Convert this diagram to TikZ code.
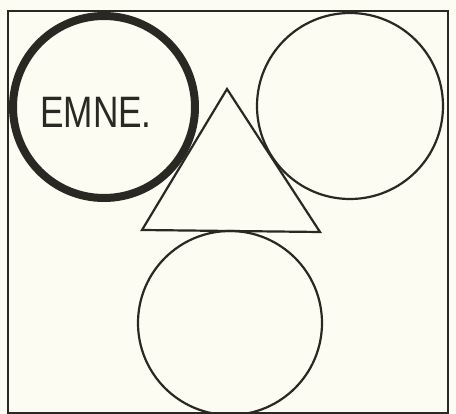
\documentclass[tikz,border=0pt]{standalone}
\usepackage{fontspec}
\setmainfont{Liberation Sans}
\usetikzlibrary{shapes.geometric}
\definecolor{paper}{HTML}{FDFCF2}
\definecolor{ink}{HTML}{2A2822}
\begin{document}
\begin{tikzpicture}[x=1pt,y=-1pt,
  thin line/.style={draw=ink,line width=2.2pt},
  ring/.style={circle,draw=ink,line width=2.2pt,inner sep=0pt},
  boldring/.style={circle,draw=ink,line width=8pt,inner sep=0pt}]
\fill[paper] (0,0) rectangle (456,414);
\useasboundingbox (0,0) rectangle (456,414);
\draw[thin line] (8,413) -- (8,11) -- (448,11) -- (448,413) -- cycle;
\node[boldring,minimum size=182pt] (emne) at (104,107) {};
\node[ring,minimum size=186pt] (right) at (350,106) {};
\node[ring,minimum size=184pt] (bottom) at (230,323) {};
\coordinate (apex) at (227,89);
\coordinate (bl) at (142,230);
\coordinate (br) at (320,232);
\draw[thin line,line join=miter] (apex) -- (bl) -- (br) -- cycle;
\node[text=ink,font=\fontsize{44}{44}\selectfont,xscale=0.8,anchor=center] (lbl) at (96,112) {EMNE.};
\end{tikzpicture}
\end{document}
